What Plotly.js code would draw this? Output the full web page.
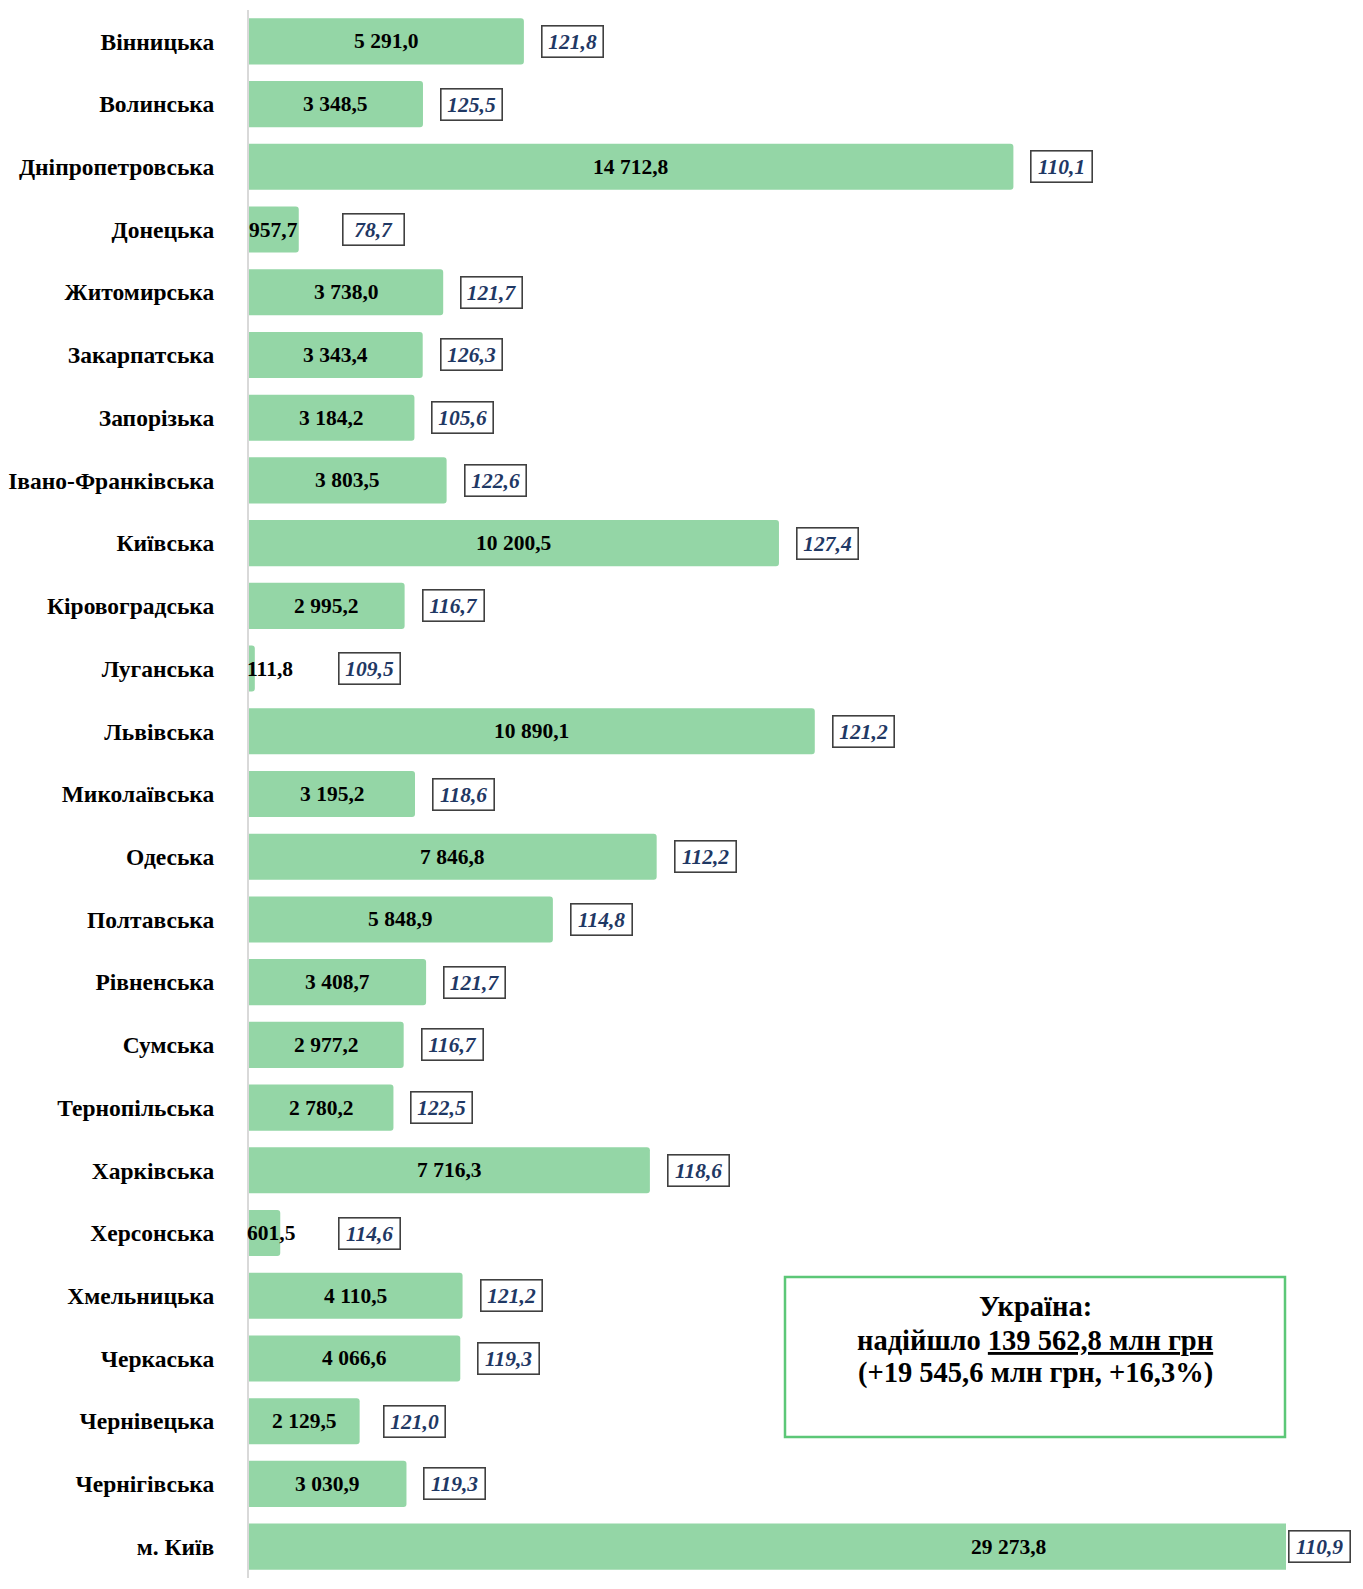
<!DOCTYPE html>
<html>
<head>
<meta charset="utf-8">
<script src="https://cdn.plot.ly/plotly-3.0.1.min.js"></script>
<style>
  html, body { margin: 0; padding: 0; background: #ffffff; overflow: hidden; width: 1363px; height: 1589px; }
  #chart { position: absolute; left: 0; top: 0; width: 1363px; height: 1589px; overflow: hidden; }
</style>
</head>
<body>
<div id="chart"></div>
<script>
// ---- data ----
const regions = [
  "Вінницька", "Волинська", "Дніпропетровська", "Донецька", "Житомирська",
  "Закарпатська", "Запорізька", "Івано-Франківська", "Київська", "Кіровоградська",
  "Луганська", "Львівська", "Миколаївська", "Одеська", "Полтавська",
  "Рівненська", "Сумська", "Тернопільська", "Харківська", "Херсонська",
  "Хмельницька", "Черкаська", "Чернівецька", "Чернігівська", "м. Київ"
];
const revenue = [
  5291.0, 3348.5, 14712.8, 957.7, 3738.0,
  3343.4, 3184.2, 3803.5, 10200.5, 2995.2,
  111.8, 10890.1, 3195.2, 7846.8, 5848.9,
  3408.7, 2977.2, 2780.2, 7716.3, 601.5,
  4110.5, 4066.6, 2129.5, 3030.9, 29273.8
];
const growthPct = [
  121.8, 125.5, 110.1, 78.7, 121.7,
  126.3, 105.6, 122.6, 127.4, 116.7,
  109.5, 121.2, 118.6, 112.2, 114.8,
  121.7, 116.7, 122.5, 118.6, 114.6,
  121.2, 119.3, 121.0, 119.3, 110.9
];
const totalLines = [
  "Україна:",
  "надійшло <u>139 562,8 млн грн</u>",
  "(+19 545,6 млн грн, +16,3%)"
];

// ---- formatting helpers ----
function fmtNum(v) {
  const s = v.toFixed(1);
  const parts = s.split(".");
  const intPart = parts[0].replace(/\B(?=(\d{3})+(?!\d))/g, " ");
  return intPart + "," + parts[1];
}
function fmtPct(v) { return v.toFixed(1).replace(".", ","); }

// ---- layout constants ----
const W = 1363, H = 1589;
const M = { l: 249, r: 77, t: 10, b: 11 };
const xMax = 19960;                 // axis is cut; м. Київ bar runs past the edge
const plotW = W - M.l - M.r;
const plotH = H - M.t - M.b;
const pxPerUnit = plotW / xMax;
const FONT = "'Liberation Serif', 'Times New Roman', serif";

const annotations = [];
regions.forEach((r, i) => {
  const v = revenue[i];
  const label = fmtNum(v);
  const barPx = v * pxPerUnit;
  const estW = label.length * 9.8;
  const valAnn = {
    x: v / 2, y: r, xref: "x", yref: "y",
    text: "<b>" + label + "</b>", showarrow: false,
    font: { family: FONT, size: 21.5, color: "#000000" },
    xanchor: "center", yanchor: "middle"
  };
  let labelEndPx = barPx / 2 + estW / 2;
  if (barPx / 2 - estW / 2 < -4) {
    valAnn.x = 0; valAnn.xanchor = "left"; valAnn.xshift = -4;
    labelEndPx = -4 + estW;
  }
  annotations.push(valAnn);

  const clipped = barPx > plotW;
  const barEndPx = Math.min(barPx, plotW);
  const boxLeftPx = clipped ? barEndPx + 2 : Math.max(barEndPx + 17, labelEndPx + 44);
  annotations.push({
    x: 0, y: r, xref: "x", yref: "y",
    xshift: boxLeftPx,
    text: "<b><i>" + fmtPct(growthPct[i]) + "</i></b>",
    showarrow: false,
    font: { family: FONT, size: 21.5, color: "#1f3864" },
    xanchor: "left", yanchor: "middle",
    width: 54, height: 24, align: "center",
    bgcolor: "#ffffff", bordercolor: "#404040", borderwidth: 1.6, borderpad: 3
  });
});

// total box text, one annotation per line
const lineCentersPx = [1306, 1340, 1373];
totalLines.forEach((t, k) => {
  annotations.push({
    xref: "paper", yref: "paper",
    x: (1035 - M.l) / plotW, y: (H - M.b - lineCentersPx[k]) / plotH,
    xanchor: "center", yanchor: "middle", showarrow: false,
    text: "<b>" + t + "</b>",
    font: { family: FONT, size: 28.5, color: "#000000" }
  });
});

const trace = {
  type: "bar", orientation: "h",
  y: regions, x: revenue,
  marker: { color: "#94d6a6", line: { width: 0 }, cornerradius: 3 },
  hoverinfo: "skip"
};

const layout = {
  width: W, height: H,
  margin: M,
  paper_bgcolor: "#ffffff", plot_bgcolor: "#ffffff",
  showlegend: false,
  bargap: 0.265,
  xaxis: {
    range: [0, xMax], visible: false, showgrid: false, zeroline: false, fixedrange: true
  },
  yaxis: {
    autorange: "reversed", type: "category",
    showline: true, linecolor: "#d9d9d9", linewidth: 2,
    showgrid: false, zeroline: false,
    ticks: "", ticklabelstandoff: 28,
    tickfont: { family: FONT, size: 23.5, color: "#000000", weight: "bold" },
    fixedrange: true
  },
  shapes: [{
    type: "rect", xref: "paper", yref: "paper",
    x0: (785 - M.l) / plotW, x1: (1285 - M.l) / plotW,
    y0: (H - M.b - 1437) / plotH, y1: (H - M.b - 1277) / plotH,
    line: { color: "#5cc777", width: 2.5 }, fillcolor: "rgba(0,0,0,0)"
  }],
  annotations: annotations
};

Plotly.newPlot("chart", [trace], layout, { displayModeBar: false, staticPlot: true });
</script>
</body>
</html>
